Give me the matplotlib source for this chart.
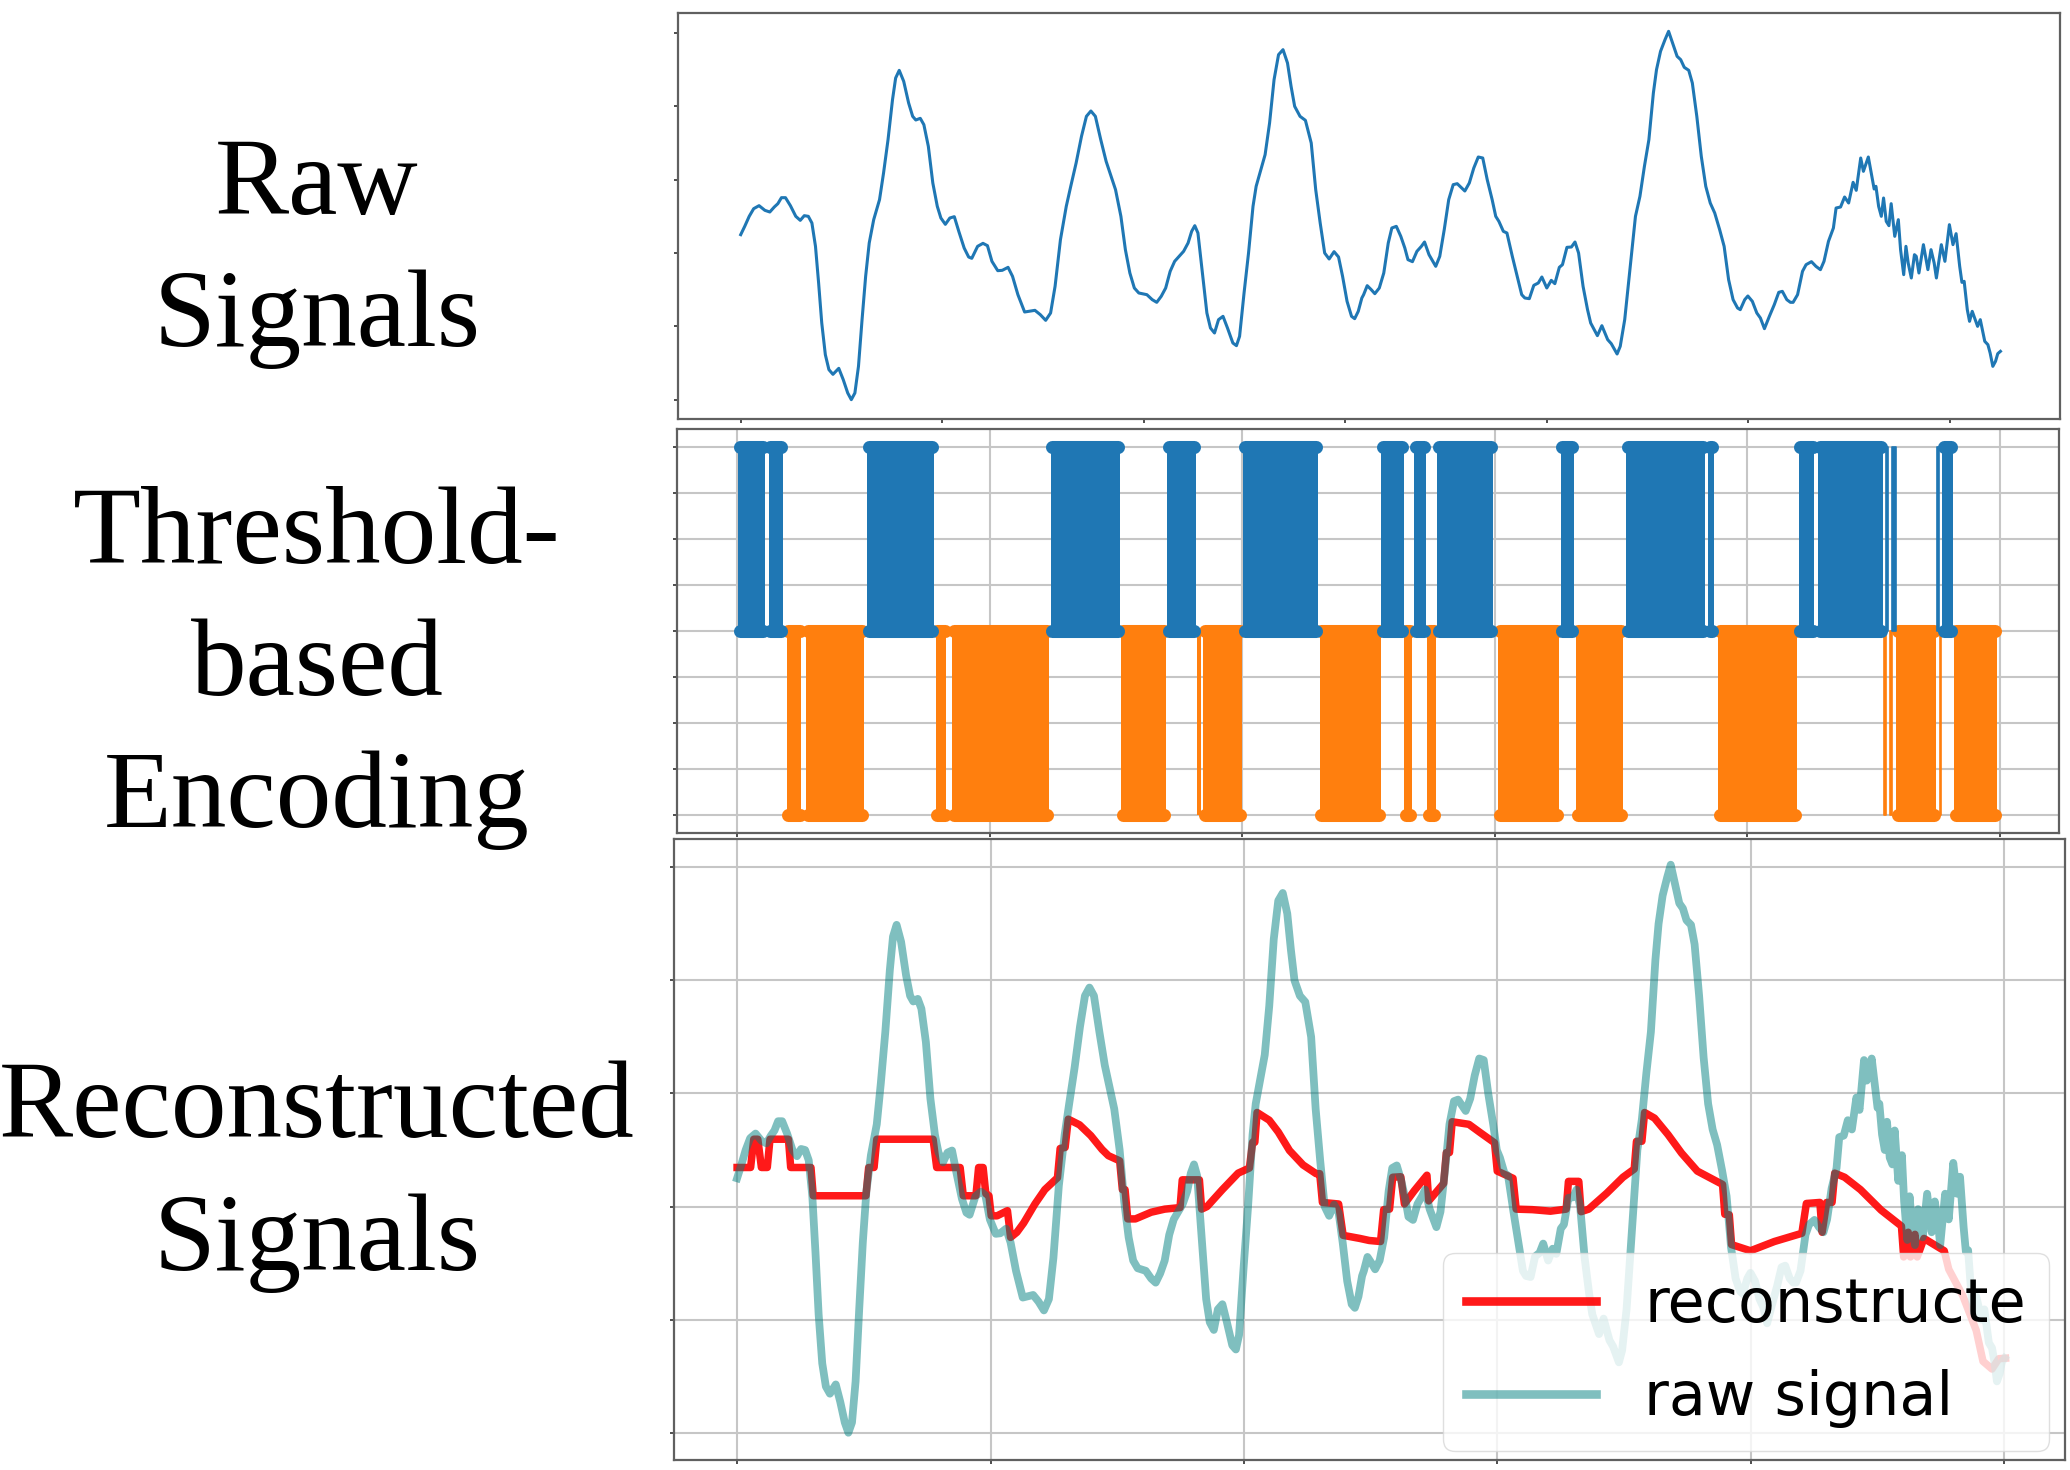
import matplotlib
matplotlib.use("Agg")
import matplotlib.pyplot as plt

W, H = 2070, 1470

raw_t = [0,9,19,29,41,54,65,75,83,91,100,111,123,133,142,151,159,167,174,181,189,197,206,219,229,239,247,255,263,271,279,287,297,310,319,329,339,346,354,364,375,384,391,401,409,419,429,439,447,457,467,477,487,499,509,516,529,541,551,561,574,584,597,607,619,634,657,669,681,692,702,714,727,737,749,761,772,782,792,804,816,837,849,859,869,879,889,907,919,929,939,949,959,969,979,989,999,1007,1014,1021,1031,1041,1049,1058,1067,1077,1087,1099,1107,1114,1124,1134,1144,1151,1171,1181,1191,1201,1211,1221,1229,1237,1249,1261,1274,1284,1294,1304,1314,1325,1335,1344,1354,1364,1371,1379,1387,
         1391,1399,1408,1416,1426,1436,1446,1454,1464,1474,1483,1490,1500,1510,1520,1527,1537,1552,1561,1571,1581,1591,1600,1617,1627,1637,1647,1657,1667,1678,1686,1693,1703,1711,1723,1734,1744,1751,1761,1771,1781,1789,1800,1810,1818,1828,1835,1845,1855,1863,1871,1881,1891,1898,1906,1913,1923,1936,1944,1957,1964,1974,1984,1998,2008,2018,2028,2038,2045,2054,2064,2072,2082,2091,2099,2107,2117,2125,2135,2145,2155,2165,2175,2186,2196,2206,2216,2226,2232,2242,2249,2259,2269,2277,2286,2297,2308,2318,2326,2336,2344,2350,2360,2371,2379,2391,2401,2411,2419,2429,2440,2446,2456,2465,2474,2484,2491,2501,2507,2518,2531,2535,2541,2547,2552,2558,2564,2569,2577,2585,2590,2597,2602,2607,2614,2621,2625,2631,2641,2651,2658,2665,2670,2681,2689,2699,2707,2714,2722,2727,2732,2739,2744,2750,2762,2768,2778,2785,2790,2796,2802,2807,2813]
raw_v = [495,520,550,573,582,568,563,578,588,606,606,582,550,538,552,550,530,460,350,230,135,90,76,94,60,20,0,20,100,240,370,470,540,600,680,780,900,965,988,955,890,850,839,844,825,760,650,580,545,526,545,549,505,455,428,424,460,469,462,415,387,388,397,370,315,263,268,255,238,260,340,480,580,640,710,790,850,866,850,780,715,630,550,450,380,335,320,315,300,292,310,335,385,415,430,445,470,505,522,500,380,260,215,200,240,250,215,170,162,190,320,440,580,640,735,830,960,1035,1050,1010,940,880,850,838,770,630,530,440,422,444,428,370,295,250,243,265,305,
         315,342,330,318,335,380,470,515,520,490,455,420,414,445,460,473,435,400,430,510,600,645,648,626,650,695,728,725,660,600,550,535,505,500,430,370,315,305,303,343,350,368,335,358,348,397,405,457,458,473,440,340,270,230,210,192,222,180,168,137,160,240,370,550,610,700,780,920,990,1045,1080,1105,1065,1030,1020,997,988,950,850,730,640,590,560,510,460,360,300,275,270,300,311,295,260,245,213,250,285,322,325,300,292,292,315,385,405,414,400,390,415,475,515,575,578,608,590,652,628,725,685,728,632,640,580,550,605,535,522,588,490,540,450,375,460,410,365,435,430,380,465,390,450,410,365,465,415,525,465,498,400,352,355,270,235,265,220,240,175,165,140,100,115,138,145]

recon_t = [0,30,37,46,54,67,73,114,119,164,169,286,292,304,310,435,443,495,502,530,536,546,552,559,564,577,600,607,621,636,661,683,711,717,728,735,760,785,810,824,849,855,861,867,884,919,949,983,988,1026,1031,1043,1077,1112,1137,1144,1149,1154,1181,1201,1226,1256,1285,1293,1299,1335,1345,1382,
           1403,1428,1435,1448,1455,1473,1481,1503,1531,1535,1568,1574,1581,1587,1624,1649,1681,1687,1722,1729,1765,1805,1840,1845,1868,1873,1890,1930,1966,1991,1996,2008,2014,2036,2066,2096,2131,2187,2192,2202,2207,2249,2302,2363,2373,2403,2408,2418,2430,2436,2458,2493,2539,2584,2589,2599,2604,2614,2619,2634,2679,2689,2720,2750,2765,2785,2800,2815]
recon_v = [516,516,571,571,516,516,571,571,516,516,461,461,516,516,571,571,516,516,461,461,516,516,465,461,422,422,432,380,390,408,445,473,496,553,555,610,599,578,551,539,529,473,473,416,416,429,435,438,492,492,435,440,473,505,515,565,565,623,608,585,549,521,504,504,448,445,384,378,
           374,372,434,435,497,498,445,471,501,451,485,545,545,605,600,584,564,509,495,435,434,431,435,489,489,430,435,466,497,513,567,567,623,612,580,544,509,483,425,424,366,354,372,388,446,448,390,448,448,505,497,473,433,402,342,390,342,386,342,378,354,318,267,199,139,124,144,145]

up_start = [2,70,289,698,957,1126,1435,1508,1559,1834,1979,2162,2364,2407,2558,2573,2673,2683]
up_end   = [62,102,438,852,1021,1293,1485,1534,1683,1864,2156,2176,2399,2552,2563,2580,2677,2708]
down_start = [110,154,442,478,855,1024,1037,1297,1486,1537,1694,1868,2184,2554,2567,2582,2678,2710]
down_end   = [143,283,466,695,954,1033,1124,1433,1502,1557,1831,1972,2361,2558,2573,2670,2681,2806]

panel_labels = ["Raw", "Signals", "Threshold-", "based", "Encoding", "Reconstructed", "Signals"]
label_baselines = [214, 346, 563, 695, 827, 1137, 1270]
legend_labels = ["reconstructe", "raw signal"]

plt.rcParams["font.family"] = "DejaVu Sans"
fig = plt.figure(figsize=(W/100, H/100), dpi=100, facecolor="white")


def panel(l, t, r, b):
    ax = fig.add_axes([l/W, 1-b/H, (r-l)/W, (b-t)/H])
    for s in ax.spines.values():
        s.set_color("#606060")
        s.set_linewidth(1.6)
    ax.tick_params(length=3.2, width=1.3, color="#404040", labelbottom=False, labelleft=False)
    ax.set_axisbelow(True)
    return ax


GRID = dict(color="#c6c6c6", linewidth=1.5)
yt = [0, 220, 440, 660, 880, 1100]

# raw signal
ax1 = panel(678, 13, 2060, 419)
ax1.plot(raw_t, raw_v, color="#1f77b4", lw=2.2)
ax1.set_xlim(-140, 2946)
ax1.set_ylim(-58, 1160)
ax1.set_xticks([i*450 for i in range(7)])
ax1.set_yticks(yt)

# threshold-based encoding
ax2 = panel(677, 429, 2059, 833)
ax2.set_xlim(-134, 2944)
ax2.set_ylim(-1.10, 1.10)
ax2.set_xticks([i*562.5 for i in range(6)])
ax2.set_yticks([-1, -.75, -.5, -.25, 0, .25, .5, .75, 1])
ax2.grid(True, **GRID)
for starts, ends, low, high, col, z in [(down_start, down_end, -1, 0, "#ff7f0e", 3),
                                        (up_start, up_end, 0, 1, "#1f77b4", 4)]:
    for s, e in zip(starts, ends):
        ax2.fill_between([s, e], low, high, color=col, lw=1.2 if e-s < 8 else 0, zorder=z)
        inset = min(4, (e-s)/2)
        for yy in (low, high):
            ax2.plot([s+inset, e-inset], [yy, yy], color=col, lw=9.4,
                     solid_capstyle="round", zorder=z)

# reconstruction
ax3 = panel(674, 839, 2065, 1460)
ax3.set_xlim(-140, 2947)
ax3.set_ylim(-53, 1155)
ax3.set_xticks([i*562.5 for i in range(6)])
ax3.set_yticks(yt)
ax3.grid(True, **GRID)
ax3.plot(recon_t, recon_v, color="red", alpha=0.9, lw=5.4, label=legend_labels[0], zorder=3)
ax3.plot(raw_t, raw_v, color="teal", alpha=0.5, lw=5.6, label=legend_labels[1], zorder=4)
leg = ax3.legend(loc="lower right", bbox_to_anchor=(2049/W, 1-1451/H),
                 bbox_transform=fig.transFigure, borderaxespad=0, fontsize=43.5,
                 handlelength=2.15, handletextpad=0.8, borderpad=0.38, labelspacing=0.56,
                 framealpha=0.8, edgecolor="#d8d8d8")
for h in leg.get_lines():
    h.set_linewidth(6.2)
leg.set_zorder(10)

for txt, y in zip(panel_labels, label_baselines):
    fig.text(317/W, 1-y/H, txt, ha="center", va="baseline", fontsize=80,
             family="Liberation Serif", color="black")

fig.savefig("out.png", dpi=100, facecolor="white")
